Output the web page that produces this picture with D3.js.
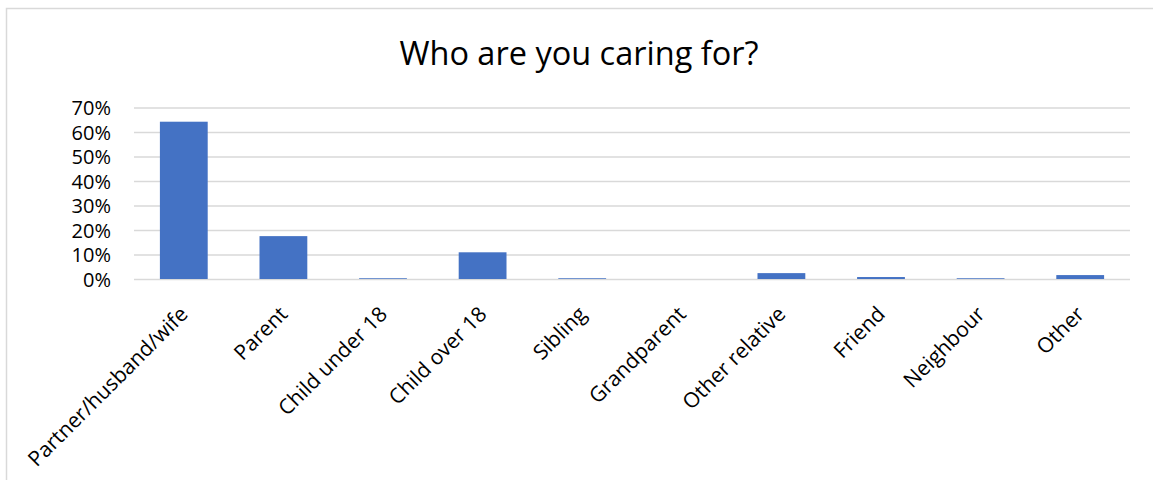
<!DOCTYPE html>
<html>
<head>
<meta charset="utf-8">
<script src="https://cdn.jsdelivr.net/npm/d3@7"></script>
<style>
  html, body { margin: 0; padding: 0; background: #ffffff; }
  svg text { font-family: "Open Sans", "Noto Sans", sans-serif; fill: #000; }
</style>
</head>
<body>
<svg id="chart" width="1153" height="480"></svg>
<script>
// Share of carers by who they care for
const categories = ["Partner/husband/wife", "Parent", "Child under 18", "Child over 18",
  "Sibling", "Grandparent", "Other relative", "Friend", "Neighbour", "Other"];
const shares = [0.642, 0.175, 0.003, 0.109, 0.003, 0.0, 0.024, 0.008, 0.003, 0.016];
const yTicks = [0, 0.1, 0.2, 0.3, 0.4, 0.5, 0.6, 0.7];
const title = "Who are you caring for?";

const svg = d3.select("#chart");
const plot = { left: 134, right: 1130, top: 107.5, bottom: 279 };

// chart area frame (extends past the right and bottom edges)
svg.append("rect")
  .attr("x", 6.5).attr("y", 8.5)
  .attr("width", 1160).attr("height", 490)
  .attr("fill", "#fff").attr("stroke", "#d9d9d9").attr("stroke-width", 1.5);

const x = d3.scaleBand()
  .domain(categories)
  .range([plot.left, plot.right])
  .paddingInner(0.52)
  .paddingOuter(0.26);

const y = d3.scaleLinear()
  .domain([0, 0.7])
  .range([plot.bottom, plot.top]);

// horizontal gridlines + percent labels
const yAxis = d3.axisLeft(y)
  .tickValues(yTicks)
  .tickFormat(d3.format(".0%"))
  .tickSize(-(plot.right - plot.left))
  .tickPadding(23);

const gy = svg.append("g")
  .attr("transform", `translate(${plot.left},0)`)
  .call(yAxis);
gy.select(".domain").remove();
gy.selectAll(".tick line").attr("stroke", "#d9d9d9").attr("stroke-width", 1.5);
gy.selectAll(".tick text")
  .attr("font-size", 20)
  .attr("dy", "0.36em")
  .style("font-family", "'Open Sans', sans-serif");

// bars
svg.append("g").selectAll("rect")
  .data(categories)
  .join("rect")
  .attr("x", d => x(d))
  .attr("width", x.bandwidth())
  .attr("y", (d, i) => y(shares[i]))
  .attr("height", (d, i) => y(0) - y(shares[i]))
  .attr("fill", "#4472c4");

// category labels, rotated
const xAxis = d3.axisBottom(x).tickSize(0).tickPadding(0);
const gx = svg.append("g")
  .attr("transform", `translate(0,${plot.bottom})`)
  .call(xAxis);
gx.select(".domain").remove();
gx.selectAll(".tick text")
  .attr("font-size", 21)
  .attr("text-anchor", "end")
  .attr("dy", "0.7em")
  .attr("transform", "translate(-5,26) rotate(-45)")
  .style("font-family", "'Open Sans', sans-serif");

// title
svg.append("text")
  .attr("x", 579)
  .attr("y", 65)
  .attr("text-anchor", "middle")
  .attr("font-size", 32.5)
  .text(title);
</script>
</body>
</html>
